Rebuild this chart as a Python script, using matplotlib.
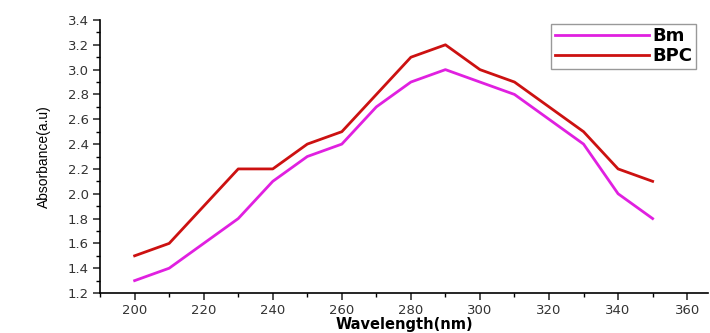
import numpy as np
import matplotlib.pyplot as plt
from matplotlib.ticker import MultipleLocator

# data
wavelength = [200, 210, 220, 230, 240, 250, 260, 270, 280, 290, 300, 310, 320, 330, 340, 350]
bm = [1.3, 1.4, 1.6, 1.8, 2.1, 2.3, 2.4, 2.7, 2.9, 3.0, 2.9, 2.8, 2.6, 2.4, 2.0, 1.8]
bpc = [1.5, 1.6, 1.9, 2.2, 2.2, 2.4, 2.5, 2.8, 3.1, 3.2, 3.0, 2.9, 2.7, 2.5, 2.2, 2.1]

plt.rcParams['font.family'] = ['DejaVu Sans']

fig = plt.figure(figsize=(7.10, 3.33), dpi=100)
ax = fig.add_axes([0.141, 0.12, 0.856, 0.82])

ax.plot(wavelength, bm, color='#e020e0', lw=2, label='Bm')
ax.plot(wavelength, bpc, color='#cc1111', lw=2, label='BPC')

ax.set_xlim(190, 366)
ax.set_ylim(1.2, 3.4)
ax.xaxis.set_major_locator(MultipleLocator(20))
ax.xaxis.set_minor_locator(MultipleLocator(10))
ax.yaxis.set_major_locator(MultipleLocator(0.2))
ax.yaxis.set_minor_locator(MultipleLocator(0.1))
ax.yaxis.set_major_formatter(plt.FormatStrFormatter('%.1f'))

ax.spines['top'].set_visible(False)
ax.spines['right'].set_visible(False)
ax.tick_params(which='major', direction='out', length=5, width=1.2, labelsize=9.5,
               colors='#333333', pad=3)
ax.tick_params(which='minor', direction='out', length=3, width=1)
for s in ax.spines.values():
    s.set_linewidth(1.2)

ax.set_xlabel('Wavelength(nm)', fontsize=10.5, fontweight='bold', labelpad=0)
ax.set_ylabel('Absorbance(a.u)', fontsize=10, fontfamily='Liberation Sans', labelpad=12)

leg = ax.legend(loc='upper right', bbox_to_anchor=(0.995, 1.02), prop={'weight': 'bold', 'size': 13},
                handlelength=5.2, handletextpad=0.2, fancybox=False, edgecolor='#999999',
                borderpad=0.2, labelspacing=0.1, framealpha=1)
leg.get_frame().set_linewidth(1)

fig.savefig('out.png', dpi=100)
